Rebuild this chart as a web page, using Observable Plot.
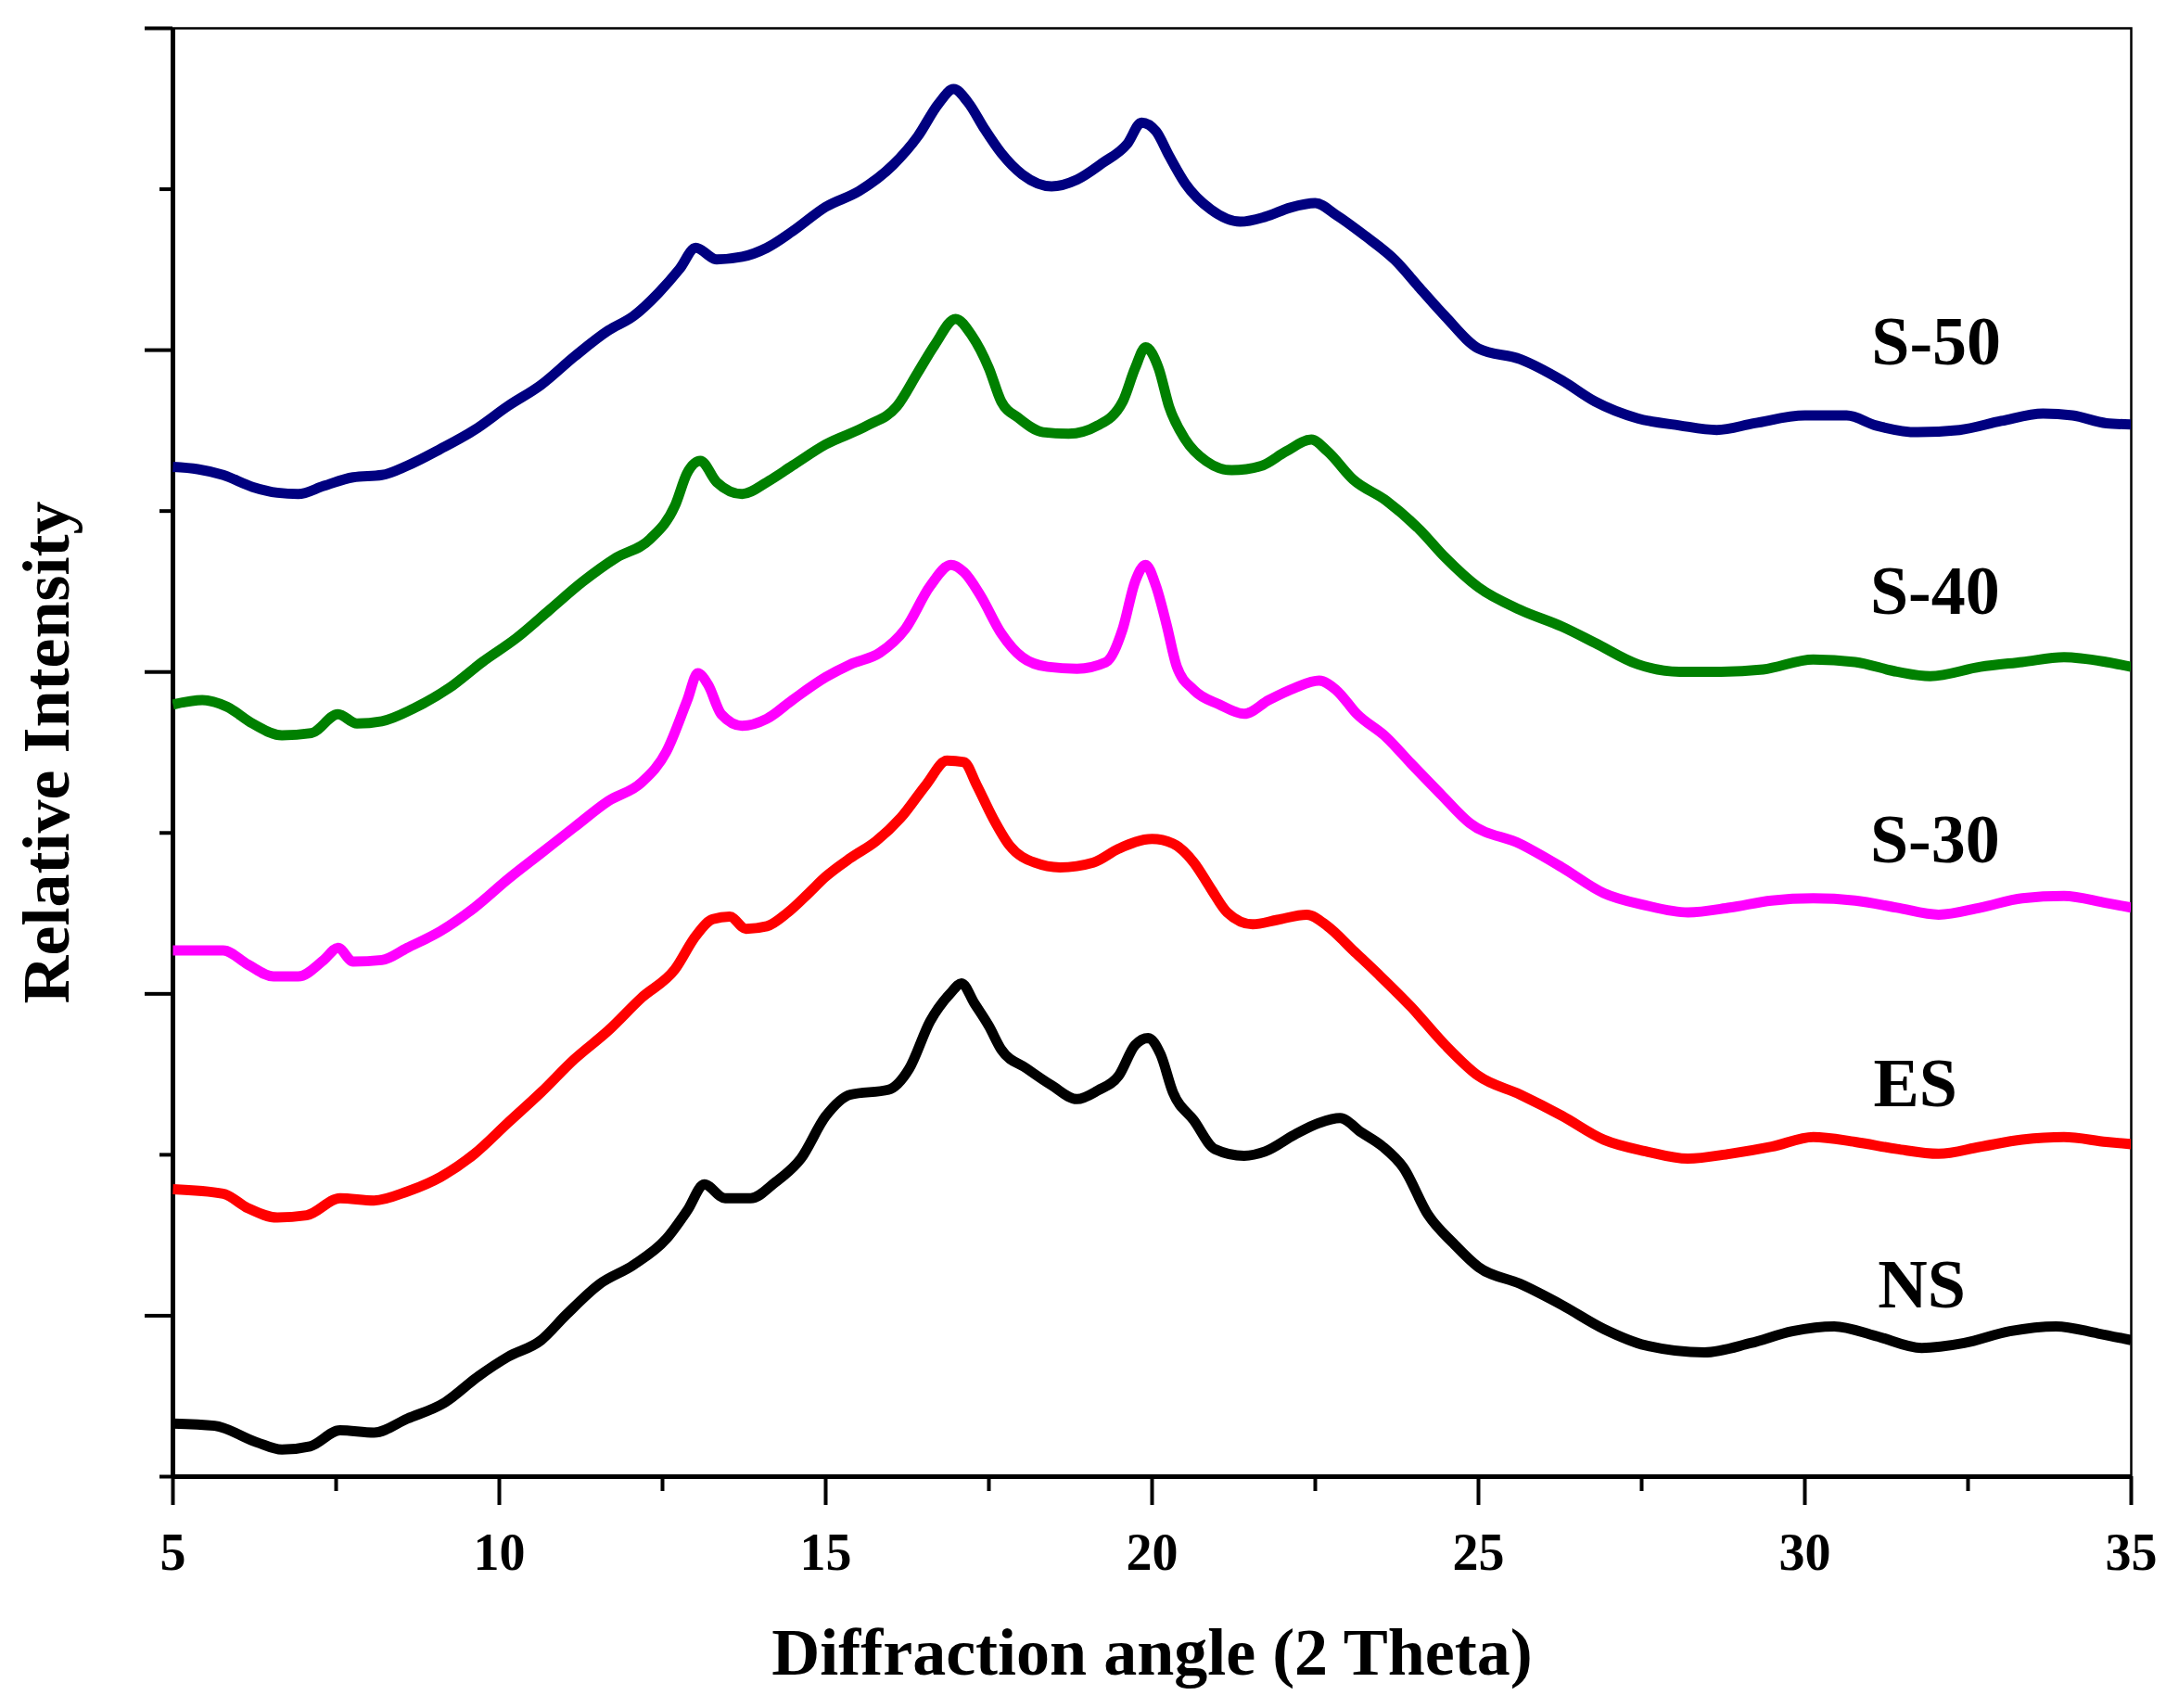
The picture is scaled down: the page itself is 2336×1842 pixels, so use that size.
<!DOCTYPE html>
<html>
<head>
<meta charset="utf-8">
<script src="https://cdn.jsdelivr.net/npm/d3@7"></script>
<script src="https://cdn.jsdelivr.net/npm/@observablehq/plot@0.6"></script>
<style>
  html, body { margin: 0; padding: 0; background: #ffffff; }
</style>
</head>
<body>
<div id="chart"></div>
<script>
// ---------- data (2θ in degrees, relative intensity in stacked units) ----------
const nsX = [5, 5.64, 6.28, 6.67, 7.1, 7.56, 8.08, 8.59, 9.17, 9.68, 10.13, 10.64, 11.03, 11.54, 12.05, 12.56, 12.88, 13.14, 13.46, 13.85, 14.23, 14.62, 15, 15.38, 15.96, 16.28, 16.6, 16.92, 17.08, 17.28, 17.5, 17.69, 18.08, 18.46, 18.85, 19.17, 19.49, 19.74, 19.94, 20.13, 20.32, 20.64, 20.96, 21.41, 21.73, 22.18, 22.56, 22.88, 23.21, 23.53, 23.85, 24.23, 24.62, 25, 25.64, 26.28, 26.92, 27.56, 28.46, 29.17, 29.81, 30.45, 31.09, 31.79, 32.44, 33.14, 33.85, 34.49, 35];
const nsY = [0.165, 0.158, 0.107, 0.084, 0.094, 0.144, 0.137, 0.18, 0.231, 0.312, 0.372, 0.424, 0.504, 0.599, 0.657, 0.739, 0.827, 0.908, 0.865, 0.865, 0.915, 0.988, 1.12, 1.187, 1.202, 1.268, 1.415, 1.504, 1.533, 1.47, 1.40, 1.327, 1.268, 1.216, 1.173, 1.20, 1.246, 1.341, 1.363, 1.312, 1.194, 1.107, 1.018, 0.997, 1.01, 1.062, 1.099, 1.114, 1.069, 1.026, 0.96, 0.813, 0.724, 0.651, 0.599, 0.533, 0.459, 0.408, 0.386, 0.415, 0.452, 0.467, 0.437, 0.4, 0.415, 0.452, 0.467, 0.445, 0.424];

const esX = [5, 5.77, 6.15, 6.6, 7.05, 7.56, 8.08, 8.59, 9.1, 9.62, 10.13, 10.64, 11.15, 11.67, 12.18, 12.69, 13.01, 13.27, 13.53, 13.78, 14.1, 14.42, 14.74, 15, 15.38, 15.77, 16.15, 16.54, 16.86, 17.12, 17.31, 17.56, 17.82, 18.2, 18.59, 19.1, 19.49, 20, 20.32, 20.64, 20.9, 21.15, 21.54, 21.92, 22.37, 22.69, 23.08, 23.46, 23.97, 24.49, 25, 25.64, 26.28, 26.92, 27.56, 28.21, 28.85, 29.49, 30.13, 30.77, 31.41, 32.05, 32.69, 33.33, 33.97, 34.62, 35];
const esY = [0.893, 0.879, 0.834, 0.805, 0.812, 0.865, 0.858, 0.886, 0.931, 1.003, 1.099, 1.194, 1.297, 1.386, 1.488, 1.576, 1.68, 1.732, 1.74, 1.702, 1.71, 1.753, 1.813, 1.864, 1.922, 1.974, 2.047, 2.15, 2.225, 2.22, 2.15, 2.047, 1.96, 1.908, 1.893, 1.908, 1.951, 1.981, 1.967, 1.908, 1.827, 1.753, 1.716, 1.73, 1.746, 1.71, 1.635, 1.562, 1.459, 1.341, 1.245, 1.187, 1.121, 1.047, 1.011, 0.988, 1.003, 1.025, 1.055, 1.04, 1.018, 1.003, 1.025, 1.047, 1.055, 1.04, 1.033];

const s30X = [5, 5.77, 6.15, 6.54, 6.92, 7.31, 7.53, 7.76, 8.2, 8.59, 9.1, 9.62, 10.13, 10.64, 11.15, 11.67, 12.18, 12.56, 12.88, 13.04, 13.2, 13.4, 13.72, 14.1, 14.49, 15, 15.38, 15.83, 16.22, 16.6, 16.92, 17.12, 17.37, 17.69, 18.01, 18.4, 18.85, 19.29, 19.55, 19.74, 19.9, 20.06, 20.22, 20.38, 20.64, 21.03, 21.41, 21.79, 22.18, 22.56, 22.82, 23.14, 23.59, 23.97, 24.42, 24.87, 25.64, 26.28, 26.92, 27.56, 28.21, 28.85, 29.49, 30.13, 30.77, 31.41, 32.05, 32.69, 33.33, 33.97, 34.62, 35];
const s30Y = [1.635, 1.635, 1.591, 1.554, 1.554, 1.605, 1.643, 1.6, 1.605, 1.643, 1.695, 1.768, 1.856, 1.937, 2.018, 2.099, 2.157, 2.253, 2.413, 2.496, 2.46, 2.369, 2.333, 2.355, 2.413, 2.484, 2.524, 2.56, 2.634, 2.767, 2.833, 2.81, 2.738, 2.62, 2.546, 2.516, 2.51, 2.53, 2.634, 2.781, 2.833, 2.767, 2.649, 2.516, 2.444, 2.399, 2.37, 2.413, 2.45, 2.473, 2.444, 2.369, 2.297, 2.215, 2.121, 2.03, 1.966, 1.893, 1.813, 1.775, 1.753, 1.768, 1.79, 1.797, 1.79, 1.768, 1.746, 1.768, 1.797, 1.804, 1.782, 1.768];

const s40X = [5, 5.45, 5.83, 6.22, 6.67, 7.12, 7.53, 7.82, 8.2, 8.72, 9.23, 9.74, 10.26, 10.77, 11.28, 11.79, 12.31, 12.69, 12.88, 13.08, 13.33, 13.72, 14.1, 14.49, 15, 15.64, 16.09, 16.41, 16.67, 16.99, 17.24, 17.5, 17.69, 17.95, 18.33, 18.72, 19.17, 19.55, 19.74, 19.9, 20.1, 20.26, 20.51, 20.83, 21.22, 21.67, 22.05, 22.44, 22.69, 23.08, 23.59, 24.1, 24.49, 25, 25.64, 26.28, 26.79, 27.44, 28.08, 28.72, 29.36, 30.13, 30.77, 31.41, 31.92, 32.69, 33.33, 33.97, 34.62, 35];
const s40Y = [2.399, 2.413, 2.392, 2.34, 2.303, 2.31, 2.369, 2.34, 2.347, 2.39, 2.45, 2.531, 2.605, 2.693, 2.781, 2.855, 2.913, 3.016, 3.119, 3.156, 3.09, 3.053, 3.09, 3.141, 3.207, 3.266, 3.325, 3.43, 3.516, 3.597, 3.545, 3.444, 3.34, 3.29, 3.245, 3.24, 3.266, 3.34, 3.444, 3.509, 3.444, 3.325, 3.222, 3.155, 3.127, 3.14, 3.185, 3.222, 3.185, 3.098, 3.032, 2.942, 2.856, 2.763, 2.693, 2.641, 2.59, 2.524, 2.501, 2.501, 2.508, 2.539, 2.531, 2.501, 2.487, 2.516, 2.531, 2.546, 2.531, 2.516];

const s50X = [5, 5.38, 5.77, 6.22, 6.6, 6.92, 7.31, 7.76, 8.2, 8.59, 9.1, 9.62, 10.13, 10.64, 11.15, 11.67, 12.05, 12.44, 12.76, 13.01, 13.33, 13.72, 14.1, 14.49, 15, 15.51, 16.03, 16.41, 16.73, 16.96, 17.18, 17.44, 17.69, 18.01, 18.46, 18.85, 19.23, 19.62, 19.84, 20.06, 20.26, 20.51, 20.9, 21.35, 21.73, 22.12, 22.5, 22.82, 23.27, 23.72, 24.1, 24.49, 25, 25.64, 26.28, 26.79, 27.44, 28.08, 28.65, 29.23, 30, 30.64, 31.09, 31.73, 32.37, 33.01, 33.65, 34.1, 34.62, 35];
const s50Y = [3.137, 3.13, 3.112, 3.075, 3.057, 3.053, 3.078, 3.105, 3.112, 3.141, 3.193, 3.252, 3.326, 3.392, 3.48, 3.561, 3.605, 3.678, 3.752, 3.818, 3.782, 3.79, 3.818, 3.869, 3.945, 3.994, 4.075, 4.164, 4.266, 4.311, 4.27, 4.185, 4.112, 4.046, 4.009, 4.03, 4.08, 4.141, 4.207, 4.18, 4.104, 4.017, 3.937, 3.899, 3.914, 3.943, 3.957, 3.92, 3.854, 3.78, 3.693, 3.605, 3.505, 3.472, 3.406, 3.34, 3.288, 3.266, 3.252, 3.273, 3.297, 3.297, 3.266, 3.245, 3.252, 3.28, 3.303, 3.297, 3.273, 3.269];

const seriesNames  = ["NS", "ES", "S-30", "S-40", "S-50"];
const seriesColors = ["#000000", "#ff0000", "#ff00ff", "#008000", "#000080"];
const seriesXs = [nsX, esX, s30X, s40X, s50X];
const seriesYs = [nsY, esY, s30Y, s40Y, s50Y];

// label anchor positions (left edge in degrees, vertical centre in intensity units)
const labelX = [31.12, 31.05, 31.0, 31.0, 31.02];
const labelY = [0.595, 1.22, 1.977, 2.748, 3.523];

const xMajorTicks = [5, 10, 15, 20, 25, 30, 35];
const xMinorTicks = [7.5, 12.5, 17.5, 22.5, 27.5, 32.5];
const yMajorTicks = [0.5, 1.5, 2.5, 3.5, 4.5];
const yMinorTicks = [0, 1, 2, 3, 4];

const xTitle = "Diffraction angle (2 Theta)";
const yTitle = "Relative Intensity";

// ---------- build ----------
const FONT = "'Liberation Serif', 'Times New Roman', Times, serif";

const lineMarks = seriesNames.map((name, i) => {
  const data = seriesXs[i].map((x, j) => ({x, y: seriesYs[i][j]}));
  return Plot.line(data, {
    x: "x", y: "y",
    stroke: seriesColors[i],
    strokeWidth: 11,
    curve: "monotone-x",
    strokeLinejoin: "round",
    strokeLinecap: "butt",
    clip: true
  });
});

const labelData = seriesNames.map((name, i) => ({name, x: labelX[i], y: labelY[i]}));

const chart = Plot.plot({
  width: 2336,
  height: 1842,
  marginLeft: 186,
  marginRight: 38,
  marginTop: 30,
  marginBottom: 250,
  x: {domain: [5, 35], axis: null},
  y: {domain: [0, 4.5], axis: null},
  style: {fontFamily: FONT, fontWeight: "bold", background: "#ffffff", color: "#000000", overflow: "visible"},
  marks: [
    Plot.frame({stroke: "#000000", strokeWidth: 2.5}),
    Plot.axisX({ticks: xMajorTicks, tickSize: 31, tickPadding: 30, strokeWidth: 4, fontSize: 56, fontWeight: "bold", fontFamily: FONT, label: null, tickFormat: d => String(d)}),
    Plot.axisX({ticks: xMinorTicks, tickSize: 16, strokeWidth: 4, tickFormat: () => "", label: null}),
    Plot.axisY({ticks: yMajorTicks, tickSize: 30, strokeWidth: 4, tickFormat: () => "", label: null}),
    Plot.axisY({ticks: yMinorTicks, tickSize: 14, strokeWidth: 4, tickFormat: () => "", label: null}),
    Plot.ruleX([5], {stroke: "#000000", strokeWidth: 5}),
    Plot.ruleY([0], {stroke: "#000000", strokeWidth: 5}),
    ...lineMarks,
    Plot.text(labelData, {
      x: "x", y: "y", text: "name",
      textAnchor: "start", lineAnchor: "middle",
      fontSize: 74, fontWeight: "bold", fontFamily: FONT, fill: "#000000"
    }),
    Plot.text([xTitle], {
      text: d => d, frameAnchor: "bottom", dy: 190,
      textAnchor: "middle", lineAnchor: "middle",
      fontSize: 72, fontWeight: "bold", fontFamily: FONT, fill: "#000000"
    }),
    Plot.text([yTitle], {
      text: d => d, frameAnchor: "left", dx: -136, rotate: -90,
      textAnchor: "middle", lineAnchor: "middle",
      fontSize: 72, fontWeight: "bold", fontFamily: FONT, fill: "#000000"
    })
  ]
});

document.getElementById("chart").appendChild(chart);
</script>
</body>
</html>
